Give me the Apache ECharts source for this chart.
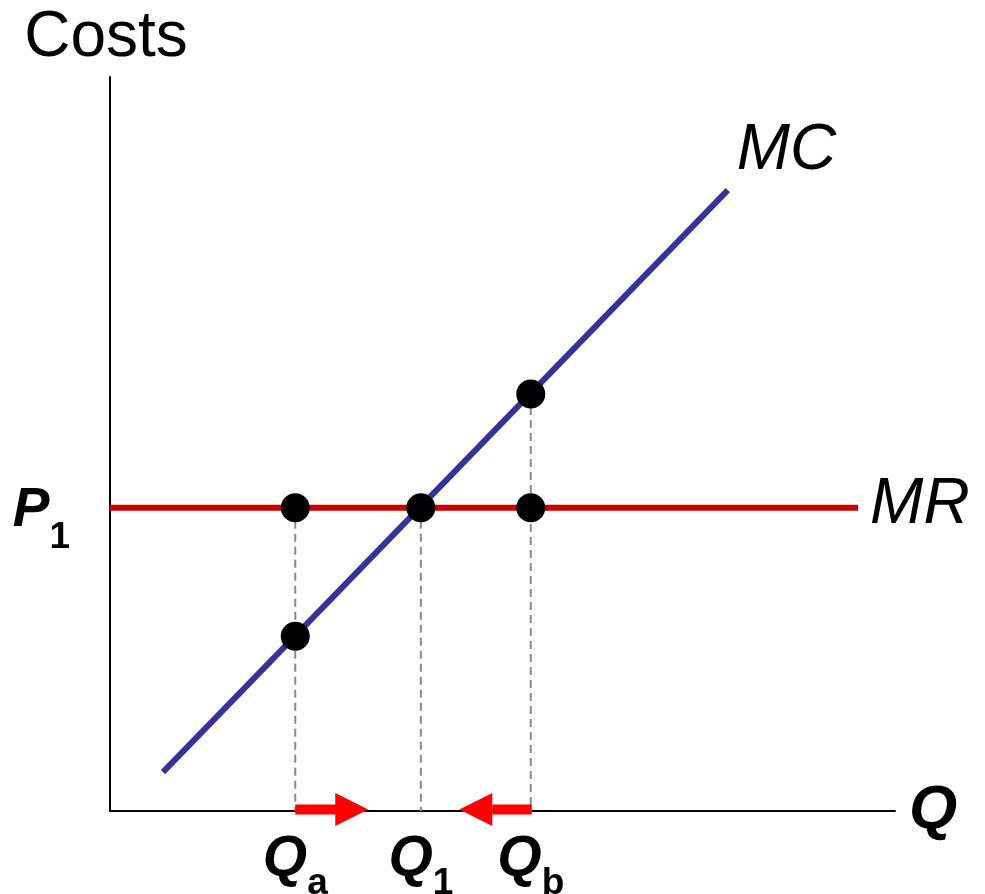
<!DOCTYPE html>
<html><head><meta charset="utf-8">
<script src="https://cdn.jsdelivr.net/npm/echarts@6/dist/echarts.min.js"></script>
<style>html,body{margin:0;padding:0;background:#fff}#c{width:985px;height:894px}</style>
</head><body><div id="c"></div>
<script>
// ---- data ----
const xTicks = [23.6, 39.6, 53.6];
const xTickLabels = [['Q', 'a'], ['Q', '1'], ['Q', 'b']];
const yTicks = [41.3];
const yTickLabels = [['P', '1']];
const mcQ = [6.75, 78.7];
const mcCost = [5.3, 84.6];
const mrQ = [0, 95.3];
const mrCost = [41.3, 41.3];
const dotQ = [23.6, 39.6, 53.6, 23.6, 53.6];
const dotCost = [41.3, 41.3, 41.3, 23.8, 56.8];
const guideQ = [23.6, 39.6, 53.6];
const guideTop = [41.3, 41.3, 56.8];
const arrowTail = [23.6, 53.6];
const arrowTip = [32.9, 44.5];
const arrowLevel = [0.2, 0.2];

const FONT = "'Liberation Sans', Arial, sans-serif";
function nearestIdx(arr, v) {
  let b = 0;
  for (let i = 1; i < arr.length; i++) if (Math.abs(arr[i] - v) < Math.abs(arr[b] - v)) b = i;
  return b;
}
const zip = (a, b) => a.map((v, i) => [v, b[i]]);

const chart = echarts.init(document.getElementById('c'), null, { renderer: 'canvas' });
chart.setOption({
  animation: false,
  backgroundColor: '#fff',
  grid: { left: 110, right: 90, top: 77, bottom: 83, containLabel: false, outerBoundsMode: 'none' },
  xAxis: {
    type: 'value', min: 0, max: 100,
    name: 'Q', nameLocation: 'end', nameGap: 14,
    nameTextStyle: { fontFamily: FONT, fontSize: 62, fontWeight: 'bold', fontStyle: 'italic', color: '#000', padding: [0, 0, 10, 0] },
    axisLine: { show: true, lineStyle: { color: '#000', width: 2 } },
    axisTick: { show: false },
    splitLine: { show: false },
    axisLabel: {
      customValues: xTicks,
      margin: 21,
      formatter: v => { const l = xTickLabels[nearestIdx(xTicks, v)]; return '{q|' + l[0] + '}{s|' + l[1] + '}'; },
      rich: {
        q: { fontFamily: FONT, fontSize: 57, fontWeight: 'bold', fontStyle: 'italic', color: '#000', lineHeight: 56, verticalAlign: 'top' },
        s: { fontFamily: FONT, fontSize: 37, fontWeight: 'bold', color: '#000', lineHeight: 40, verticalAlign: 'top', padding: [33, 0, 0, 0] }
      }
    }
  },
  yAxis: {
    type: 'value', min: 0, max: 100,
    name: 'Costs', nameLocation: 'end', nameGap: 7,
    nameTextStyle: { fontFamily: FONT, fontSize: 64, color: '#000', align: 'center', padding: [0, 8, 0, 0] },
    axisLine: { show: true, lineStyle: { color: '#000', width: 2 } },
    axisTick: { show: false },
    splitLine: { show: false },
    axisLabel: {
      customValues: yTicks,
      margin: 40,
      formatter: v => { const l = yTickLabels[nearestIdx(yTicks, v)]; return '{p|' + l[0] + '}{s|' + l[1] + '}'; },
      rich: {
        p: { fontFamily: FONT, fontSize: 55, fontWeight: 'bold', fontStyle: 'italic', color: '#000', lineHeight: 50, verticalAlign: 'top' },
        s: { fontFamily: FONT, fontSize: 37, fontWeight: 'bold', color: '#000', lineHeight: 40, verticalAlign: 'top', padding: [36, 0, 0, 0] }
      }
    }
  },
  series: [
    {
      type: 'custom', name: 'guides', clip: false, z: 1,
      data: guideQ.map((q, i) => [q, guideTop[i]]),
      renderItem: (params, api) => {
        const top = api.coord([api.value(0), api.value(1)]);
        const bot = api.coord([api.value(0), 0]);
        return { type: 'line', shape: { x1: top[0], y1: top[1], x2: bot[0], y2: bot[1] },
          style: { stroke: '#8a8a8a', lineWidth: 2, lineDash: [8, 5] } };
      }
    },
    {
      type: 'line', name: 'MC', data: zip(mcQ, mcCost), symbol: 'none', z: 3,
      lineStyle: { color: '#333399', width: 6 },
      endLabel: { show: true, formatter: 'MC', distance: 5, offset: [4, -39],
        fontFamily: FONT, fontSize: 64, fontStyle: 'italic', color: '#000' }
    },
    {
      type: 'line', name: 'MR', data: zip(mrQ, mrCost), symbol: 'none', z: 3,
      lineStyle: { color: '#cc0000', width: 6 },
      endLabel: { show: true, formatter: 'MR', distance: 12, offset: [0, -3],
        fontFamily: FONT, fontSize: 64, fontStyle: 'italic', color: '#000' }
    },
    {
      type: 'scatter', name: 'points', data: zip(dotQ, dotCost), symbol: 'circle', symbolSize: 29, z: 5,
      itemStyle: { color: '#000', opacity: 1 }
    },
    {
      type: 'custom', name: 'arrows', clip: false, z: 6,
      data: arrowTail.map((t, i) => [t, arrowTip[i], arrowLevel[i]]),
      encode: { x: [0, 1], y: 2 },
      renderItem: (params, api) => {
        const tail = api.coord([api.value(0), api.value(2)]);
        const tip = api.coord([api.value(1), api.value(2)]);
        const dir = tip[0] > tail[0] ? 1 : -1;
        const headLen = 33, headHalf = 16.5, shaftHalf = 5;
        const base = tip[0] - dir * headLen;
        const x0 = Math.min(tail[0], base), x1 = Math.max(tail[0], base);
        return { type: 'group', children: [
          { type: 'rect', shape: { x: x0, y: tail[1] - shaftHalf, width: x1 - x0 + 1, height: shaftHalf * 2 }, style: { fill: '#ff0000' } },
          { type: 'polygon', shape: { points: [[base, tip[1] - headHalf], [tip[0], tip[1]], [base, tip[1] + headHalf]] }, style: { fill: '#ff0000' } }
        ] };
      }
    }
  ]
});
</script></body></html>
